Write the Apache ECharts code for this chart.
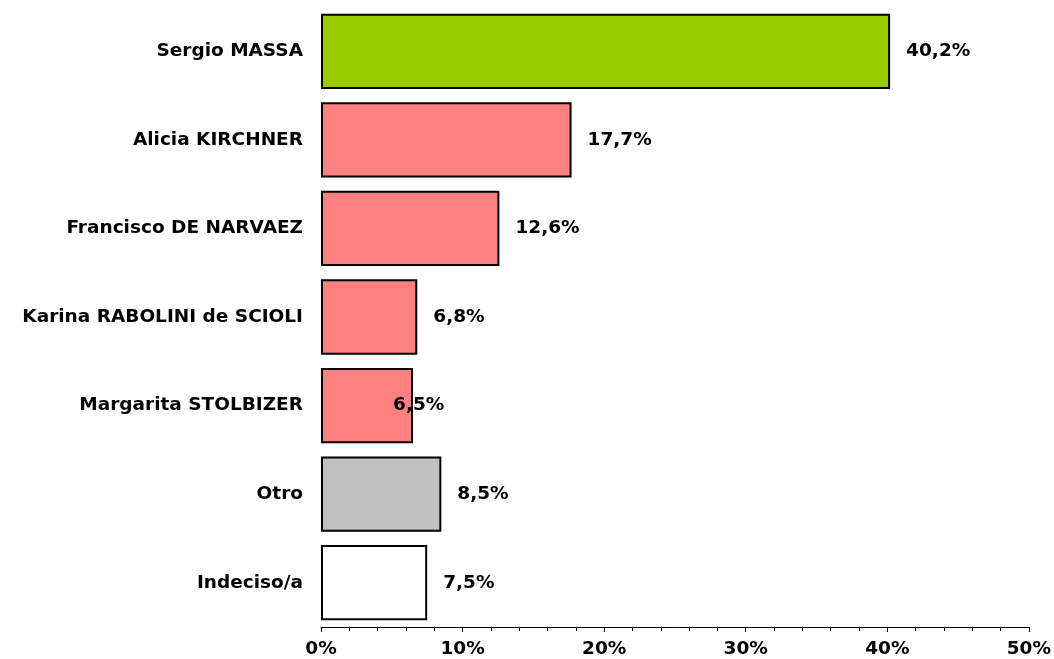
<!DOCTYPE html>
<html><head><meta charset="utf-8">
<script src="https://cdn.jsdelivr.net/npm/echarts@6/dist/echarts.min.js"></script>
<style>html,body{margin:0;padding:0;background:#fff}#c{width:1054px;height:659px}</style>
</head><body><div id="c"></div>
<script>
const categories = ["Sergio MASSA","Alicia KIRCHNER","Francisco DE NARVAEZ","Karina RABOLINI de SCIOLI","Margarita STOLBIZER","Otro","Indeciso/a"];
const values = [40.2, 17.7, 12.6, 6.8, 6.5, 8.5, 7.5];
const colors = ["#99CC00","#FF8080","#FF8080","#FF8080","#FF8080","#C0C0C0","#FFFFFF"];
const labelShift = [0,0,0,0,-36,0,0];
const xTicks = [0,10,20,30,40,50];

const font = "'DejaVu Sans', Verdana, sans-serif";
const fs = 18.5;
const chart = echarts.init(document.getElementById('c'), null, {renderer:'canvas'});
chart.setOption({
  animation:false,
  grid:{left:321,right:25,top:7,bottom:30,containLabel:false},
  xAxis:{type:'value',min:xTicks[0],max:xTicks[xTicks.length-1],interval:10,
    axisLine:{show:true,lineStyle:{color:'#000',width:1}},
    axisTick:{show:true,length:5,lineStyle:{color:'#000'}},
    minorTick:{show:true,splitNumber:5,length:4,lineStyle:{color:'#000'}},
    splitLine:{show:false},
    axisLabel:{formatter:v=>v+'%',fontFamily:font,fontWeight:'bold',fontSize:fs,color:'#000',margin:13}
  },
  yAxis:{type:'category',data:categories,inverse:true,
    axisLine:{show:false},axisTick:{show:false},
    axisLabel:{fontFamily:font,fontWeight:'bold',fontSize:fs,color:'#000',margin:18}
  },
  series:[{type:'bar',barCategoryGap:'15%',
    data:values.map((v,i)=>({value:v,itemStyle:{color:colors[i]},label:{offset:[labelShift[i],0]}})),
    itemStyle:{borderColor:'#000',borderWidth:2},
    label:{show:true,position:'right',distance:16,formatter:p=>p.value.toFixed(1).replace('.',',')+'%',
      fontFamily:font,fontWeight:'bold',fontSize:fs,color:'#000'}
  }]
});
</script></body></html>
